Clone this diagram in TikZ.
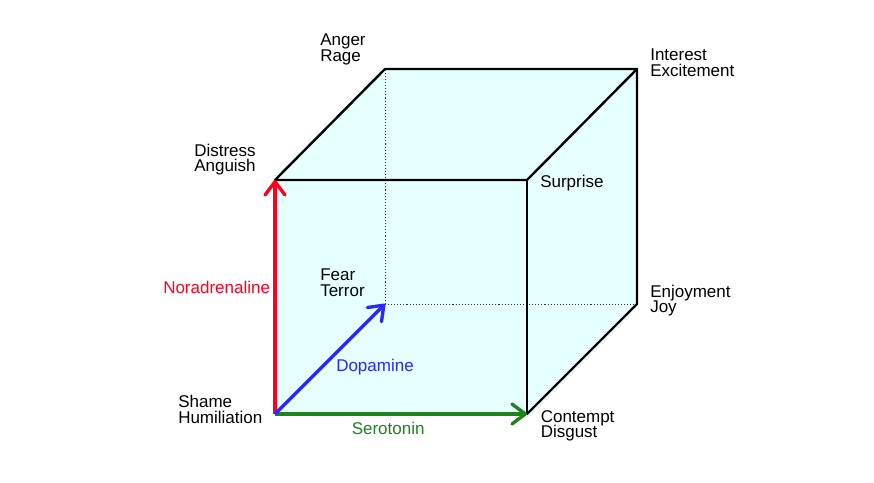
\documentclass[tikz,border=0pt]{standalone}
\usepackage{fontspec}
\setmainfont{Liberation Sans}
\usetikzlibrary{arrows.meta}
\definecolor{cubefill}{RGB}{230,255,255}
\definecolor{nared}{RGB}{255,0,30}
\definecolor{dablue}{RGB}{40,40,255}
\definecolor{segreen}{RGB}{30,130,30}
\lineskiplimit=-20pt
\begin{document}
\begin{tikzpicture}[x=0.75pt, y=-0.75pt,
    font=\fontsize{12.75pt}{11.7pt}\selectfont,
    edge/.style={line width=1.8pt, line cap=round, line join=round},
    hidden/.style={line width=0.7pt, dash pattern=on 0.8pt off 1.5pt, color=black!80},
    axis/.style={line width=2.5pt, -{Straight Barb[length=10pt, width=15pt, round]}},
    emo/.style={anchor=north west, inner sep=0pt, align=left}]
    \useasboundingbox (0,0) rectangle (874,482);
    % corners of the cube
    \coordinate (fbl) at (275,414);
    \coordinate (fbr) at (527,414);
    \coordinate (ftl) at (275,180);
    \coordinate (ftr) at (527,180);
    \coordinate (bbl) at (385,304);
    \coordinate (bbr) at (637,304);
    \coordinate (btl) at (385,69);
    \coordinate (btr) at (637,69);
    % body
    \fill[cubefill] (fbl) -- (fbr) -- (bbr) -- (btr) -- (btl) -- (ftl) -- cycle;
    \draw[hidden] (bbl) -- (btl);
    \draw[hidden] (bbl) -- (bbr);
    \draw[edge] (ftl) -- (btl) -- (btr) -- (ftr) -- cycle;
    \draw[edge] (ftr) -- (fbr);
    \draw[edge] (btr) -- (bbr) -- (fbr);
    % monoamine axes
    \draw[axis, color=nared] (fbl) -- (ftl);
    \draw[axis, color=segreen] (fbl) -- (fbr);
    \draw[axis, color=dablue] (fbl) -- (bbl);
    % emotions at the corners
    \node[emo] (anger) at (320,33.8) {Anger\\Rage};
    \node[emo] (interest) at (650,48.5) {Interest\\Excitement};
    \node[emo] (distress) at (194,143.8) {Distress\\Anguish};
    \node[emo] (surprise) at (540,175) {Surprise};
    \node[emo] (fear) at (320,268.8) {Fear\\Terror};
    \node[emo] (enjoyment) at (650,284.8) {Enjoyment\\Joy};
    \node[emo] (shame) at (178,395) {Shame\\Humiliation};
    \node[emo] (contempt) at (540.5,410) {Contempt\\Disgust};
    % axis names
    \node[emo, text=nared] (noradrenaline) at (163,280.5) {Noradrenaline};
    \node[emo, text=dablue] (dopamine) at (336,358.8) {Dopamine};
    \node[emo, text=segreen] (serotonin) at (351.5,422) {Serotonin};
\end{tikzpicture}
\end{document}
